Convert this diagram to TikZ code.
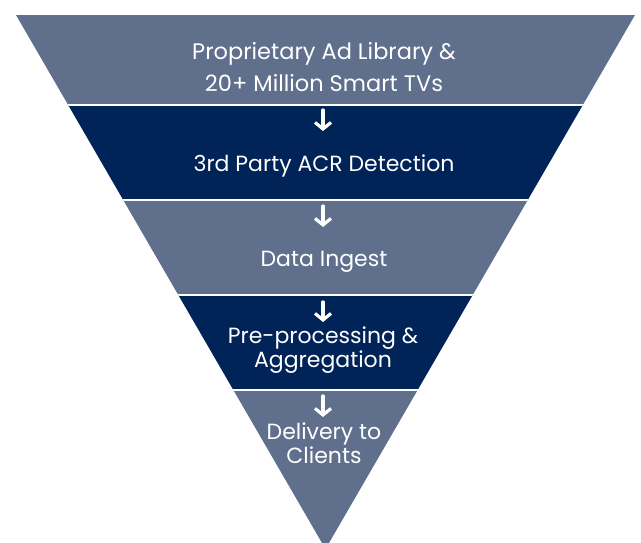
\documentclass[tikz,border=0pt]{standalone}
\usepackage{fontspec}
\setmainfont{Poppins}
\usetikzlibrary{arrows.meta}
\definecolor{bandlight}{HTML}{5F6F8C}
\definecolor{banddark}{HTML}{002358}
\tikzset{
  lbl/.style={text=white, align=center, font=\fontsize{22}{24}\selectfont, inner sep=0pt},
  lbltop/.style={lbl, font=\fontsize{22.5}{32}\selectfont},
  flow/.style={draw=white, line width=3.2pt, line cap=round, -{Straight Barb[length=6.5pt,width=16pt,line width=3.2pt]}},
  sep/.style={draw=white, line width=2.4pt}
}
\begin{document}
\begin{tikzpicture}[x=1pt,y=-1pt]
\useasboundingbox (0,0) rectangle (641,543);
\begin{scope}
  \clip (16,15) -- (635,15) -- (325.5,549) -- cycle;
  \fill[bandlight] (0,15) rectangle (641,105);
  \fill[banddark] (0,105) rectangle (641,200);
  \fill[bandlight] (0,200) rectangle (641,295);
  \fill[banddark] (0,295) rectangle (641,390);
  \fill[bandlight] (0,390) rectangle (641,560);
  \draw[sep] (0,105) -- (641,105);
  \draw[sep] (0,200) -- (641,200);
  \draw[sep] (0,295) -- (641,295);
  \draw[sep] (0,390) -- (641,390);
\end{scope}
\node[lbltop] (t1) at (324,67) {Proprietary Ad Library \&\\20+ Million Smart TVs};
\node[lbl] (t2) at (324,166) {3rd Party ACR Detection};
\node[lbl] (t3) at (324,262) {Data Ingest};
\node[lbl] (t4) at (323,350) {Pre-processing \&\\Aggregation};
\node[lbl] (t5) at (324,443) {Delivery to\\Clients};
\coordinate (a1s) at (323,110); \coordinate (a1e) at (323,131);
\coordinate (a2s) at (323,206); \coordinate (a2e) at (323,227);
\coordinate (a3s) at (323,302); \coordinate (a3e) at (323,322);
\coordinate (a4s) at (323,396); \coordinate (a4e) at (323,417);
\draw[flow] (a1s) -- (a1e);
\draw[flow] (a2s) -- (a2e);
\draw[flow] (a3s) -- (a3e);
\draw[flow] (a4s) -- (a4e);
\end{tikzpicture}
\end{document}
